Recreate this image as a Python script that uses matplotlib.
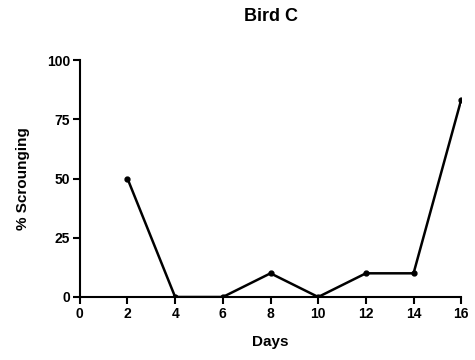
import numpy as np
import matplotlib
matplotlib.use('Agg')
import matplotlib.pyplot as plt

plt.rcParams['font.family'] = ['Liberation Sans', 'DejaVu Sans']
plt.rcParams['font.weight'] = 'bold'

days = [2, 4, 6, 8, 10, 12, 14, 16]
scrounging = [50, 0, 0, 10, 0, 10, 10, 83.3]

xticks = [0, 2, 4, 6, 8, 10, 12, 14, 16]
yticks = [0, 25, 50, 75, 100]

fig = plt.figure(figsize=(4.75, 3.6), dpi=100)
ax = fig.add_axes([0.168, 0.175, 0.803, 0.658])

ax.plot(days, scrounging, color='black', lw=1.8, marker='o', ms=3.5)

ax.set_xlim(0, 16)
ax.set_ylim(0, 100)
ax.set_xticks(xticks)
ax.set_yticks(yticks)
ax.spines['top'].set_visible(False)
ax.spines['right'].set_visible(False)
ax.spines['left'].set_linewidth(1.5)
ax.spines['bottom'].set_linewidth(1.5)
ax.tick_params(direction='out', length=5, width=1.5, labelsize=10, pad=2)
for lab in ax.get_xticklabels() + ax.get_yticklabels():
    lab.set_fontweight('bold')

ax.set_title('Bird C', fontsize=13, fontweight='bold', pad=28)
ax.set_xlabel('Days', fontsize=11, fontweight='bold', labelpad=10)
ax.set_ylabel('% Scrounging', fontsize=11, fontweight='bold', labelpad=12)

fig.savefig('out.png', dpi=100)
